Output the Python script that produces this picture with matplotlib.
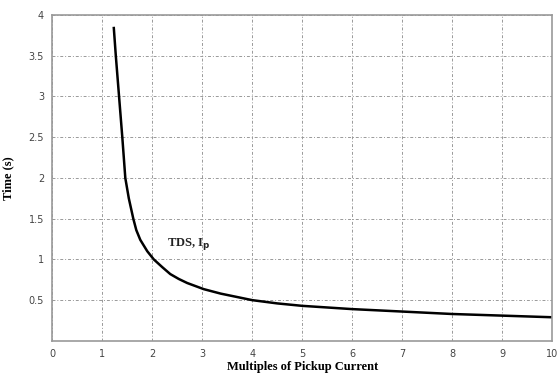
import matplotlib
matplotlib.use("Agg")
from matplotlib import pyplot as plt

# curve
multiples = [1.23, 1.27, 1.335, 1.40, 1.46, 1.53, 1.62, 1.68, 1.76, 1.90, 2.03,
             2.20, 2.36, 2.53, 2.70, 3.03, 3.37, 4.0, 4.5, 5.0, 5.5, 6.0,
             7.0, 8.0, 9.0, 10.0]
time_s = [3.84, 3.5, 3.0, 2.5, 2.0, 1.75, 1.5, 1.36, 1.24, 1.10, 1.0,
          0.905, 0.82, 0.76, 0.71, 0.635, 0.58, 0.5, 0.46, 0.43, 0.41, 0.39,
          0.36, 0.33, 0.31, 0.29]

x_ticks = list(range(0, 11))
y_ticks = [0.5, 1, 1.5, 2, 2.5, 3, 3.5, 4]
y_tick_labels = ["0.5", "1", "1.5", "2", "2.5", "3", "3.5", "4"]

fig = plt.figure(figsize=(5.57, 3.75), dpi=100)
ax = fig.add_axes([0.094, 0.091, 0.897, 0.869])

ax.plot(multiples, time_s, color="black", lw=1.8, solid_joinstyle="round")

ax.set_xlim(0, 10)
ax.set_ylim(0, 4)
ax.set_xticks(x_ticks)
ax.set_yticks(y_ticks)
ax.set_yticklabels(y_tick_labels)
ax.tick_params(direction="in", length=0, labelsize=7, colors="#444444", pad=6)
ax.grid(True, color="#999999", linestyle=(0, (3, 2, 1, 2)), lw=0.7)
for s in ax.spines.values():
    s.set_color("#999999")
    s.set_linewidth(1.2)

ax.text(2.3, 1.19, r"TDS, I$_\mathbf{p}$", fontsize=9, fontweight="bold",
        family="Liberation Serif", va="center", color="#222222")
ax.set_xlabel("Multiples of Pickup Current", fontsize=9, fontweight="bold",
              family="Liberation Serif", labelpad=1)
ax.set_ylabel("Time (s)", fontsize=9, fontweight="bold",
              family="Liberation Serif", labelpad=10)

fig.savefig("out.png", dpi=100)
